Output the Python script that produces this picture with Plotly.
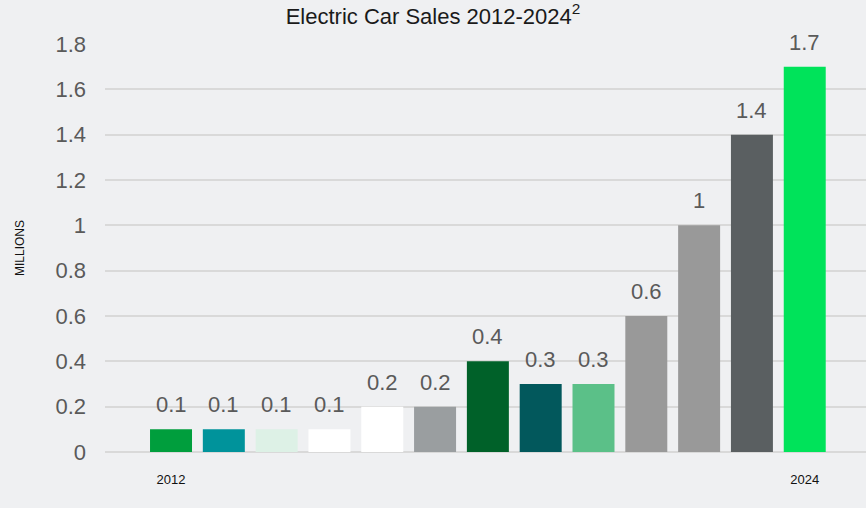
import plotly.graph_objects as go

# Données
years = [2012, 2013, 2014, 2015, 2016, 2017, 2018, 2019, 2020, 2021, 2022, 2023, 2024]
sales = [0.1, 0.1, 0.1, 0.1, 0.2, 0.2, 0.4, 0.3, 0.3, 0.6, 1.0, 1.4, 1.7]
sales_labels = ["0.1", "0.1", "0.1", "0.1", "0.2", "0.2", "0.4", "0.3", "0.3",
                "0.6", "1", "1.4", "1.7"]
bar_colors = ["#009e3d", "#00939b", "#ddf1e6", "#ffffff", "#ffffff", "#9a9ea0",
              "#006129", "#02585c", "#5bc088", "#999999", "#999999", "#5a5f61",
              "#00e35a"]
y_ticks = [0, 0.2, 0.4, 0.6, 0.8, 1.0, 1.2, 1.4, 1.6, 1.8]
y_tick_labels = ["0", "0.2", "0.4", "0.6", "0.8", "1", "1.2", "1.4", "1.6", "1.8"]
x_ticks = [2012, 2024]

FONT = "Liberation Sans, Arial, sans-serif"
LABEL_GREY = "#5a5a5a"
GRID = "#d9d9d9"
BG = "#eff0f2"

fig = go.Figure(
    go.Bar(
        x=years,
        y=sales,
        marker={"color": bar_colors, "line": {"width": 0}},
        hoverinfo="skip",
    )
)

# Étiquettes de valeur au-dessus des barres
for x, y, lab in zip(years, sales, sales_labels):
    fig.add_annotation(
        x=x, y=y, text=lab,
        showarrow=False, yanchor="bottom", yshift=10,
        font={"family": FONT, "size": 22, "color": LABEL_GREY},
    )

fig.update_layout(
    width=866, height=508,
    margin={"l": 105, "r": 0, "t": 44, "b": 56},
    paper_bgcolor=BG, plot_bgcolor=BG,
    bargap=0.205,
    showlegend=False,
    font={"family": FONT},
    title={
        "text": "Electric Car Sales 2012-2024<sup style='font-size:14px'>2</sup>",
        "x": 0.5, "xanchor": "center",
        "y": 1 - 16 / 508, "yanchor": "middle",
        "font": {"family": FONT, "size": 22, "color": "#1a1a1a"},
    },
)
fig.update_xaxes(
    range=[2012 - 1.25, 2024 + 1.16],
    tickvals=x_ticks,
    ticktext=[str(v) for v in x_ticks],
    tickfont={"family": FONT, "size": 13, "color": "#111111"},
    ticklabelstandoff=18,
    showgrid=False, zeroline=False, showline=False,
)
fig.update_yaxes(
    range=[0, 1.8],
    tickvals=y_ticks,
    ticktext=y_tick_labels,
    tickfont={"family": FONT, "size": 22, "color": LABEL_GREY},
    ticklabelstandoff=18,
    showgrid=True, gridcolor=GRID, gridwidth=1.5,
    zeroline=True, zerolinecolor=GRID, zerolinewidth=1.5,
    showline=False,
    title={"text": "MILLIONS", "standoff": 28,
           "font": {"family": FONT, "size": 12, "color": "#111111"}},
)

# Pas de marge autour de la page ni de barre d'outils : la figure remplit la fenêtre.
fig.write_html(
    "out.html",
    config={"displayModeBar": False},
    post_script="document.body.style.margin='0';",
)
